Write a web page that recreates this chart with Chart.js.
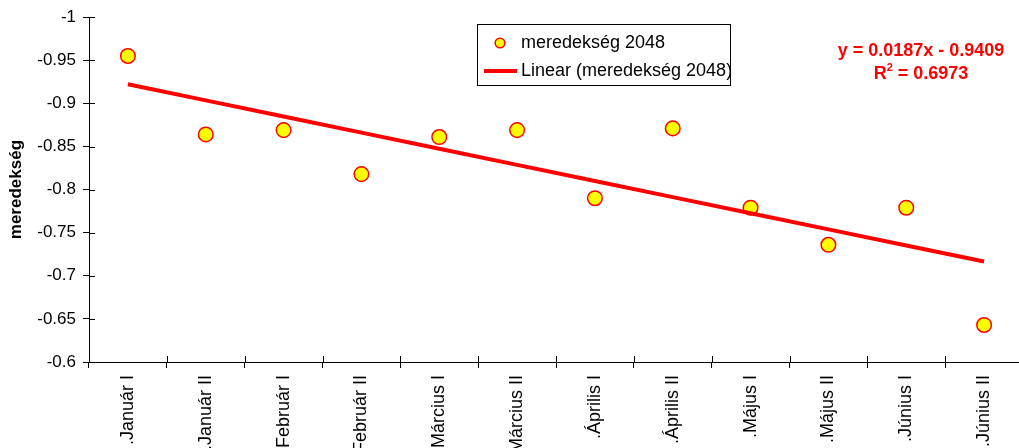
<!DOCTYPE html>
<html>
<head>
<meta charset="utf-8">
<script src="https://cdn.jsdelivr.net/npm/chart.js@4/dist/chart.umd.min.js"></script>
<style>
  html, body { margin: 0; padding: 0; background: #fff; overflow: hidden; }
  #wrap { position: relative; width: 1023px; height: 448px; }
</style>
</head>
<body>
<div id="wrap"><canvas id="c" width="1023" height="448"></canvas></div>
<script>
// Half-month periods on the category axis
const categories = ['.Január I', '.Január II', '.Február I', '.Február II', '.Március I', '.Március II',
                    '.Április I', '.Április II', '.Május I', '.Május II', '.Június I', '.Június II'];
// Slope values per period
const slopeValues = [-0.955, -0.864, -0.869, -0.818, -0.861, -0.869,
                     -0.790, -0.871, -0.779, -0.736, -0.779, -0.643];
// Value-axis tick labels
const yTicks = [-1, -0.95, -0.9, -0.85, -0.8, -0.75, -0.7, -0.65, -0.6];
// Linear trend coefficients
const trendSlope = 0.0187;
const trendIntercept = -0.9409;
const rSquared = 0.6973;

const seriesName = 'meredekség 2048';
const trendName = 'Linear (meredekség 2048)';
const axisTitle = 'meredekség';

// Trend line evaluated at x = 1..12 from the fitted equation
const trendValues = categories.map((_, i) => trendSlope * (i + 1) + trendIntercept);

const FONT = '"Liberation Sans", Arial, Helvetica, sans-serif';
Chart.defaults.font.family = FONT;
Chart.defaults.color = '#000';

// Tick marks that cross the axis lines (inner half; Chart.js draws the outer half)
const innerTicks = {
  id: 'innerTicks',
  afterDraw(chart) {
    const ctx = chart.ctx;
    const a = chart.chartArea;
    const ys = chart.scales.y;
    ctx.save();
    ctx.strokeStyle = '#000';
    ctx.lineWidth = 1;
    ctx.beginPath();
    const step = (a.right - a.left) / categories.length;
    for (let i = 0; i <= categories.length; i++) {
      const x = Math.round(a.left + i * step) + 0.5;
      ctx.moveTo(x, a.bottom);
      ctx.lineTo(x, a.bottom - 6);
    }
    yTicks.forEach(v => {
      const y = Math.round(ys.getPixelForValue(v)) + 0.5;
      ctx.moveTo(a.left, y);
      ctx.lineTo(a.left + 6, y);
    });
    ctx.stroke();
    ctx.restore();
  }
};

// Boxed legend and trend equation
const annotations = {
  id: 'annotations',
  afterDraw(chart) {
    const ctx = chart.ctx;
    ctx.save();
    // legend box
    ctx.fillStyle = '#fff';
    ctx.fillRect(477, 24, 253, 61);
    ctx.strokeStyle = '#000';
    ctx.lineWidth = 1;
    ctx.strokeRect(477.5, 24.5, 253, 61);

    const pts = chart.data.datasets[1];
    const trd = chart.data.datasets[0];
    // marker entry
    ctx.beginPath();
    ctx.arc(500, 43, 4.8, 0, Math.PI * 2);
    ctx.fillStyle = pts.backgroundColor;
    ctx.fill();
    ctx.lineWidth = 1.5;
    ctx.strokeStyle = pts.borderColor;
    ctx.stroke();
    // line entry
    ctx.beginPath();
    ctx.moveTo(484, 71);
    ctx.lineTo(517, 71);
    ctx.lineWidth = 4;
    ctx.strokeStyle = trd.borderColor;
    ctx.stroke();

    ctx.fillStyle = '#000';
    ctx.font = '18px ' + FONT;
    ctx.textAlign = 'left';
    ctx.textBaseline = 'middle';
    ctx.fillText(pts.label, 521, 43);
    ctx.fillText(trd.label, 521, 71);

    // equation
    ctx.fillStyle = '#ff0000';
    ctx.font = 'bold 18px ' + FONT;
    ctx.textAlign = 'center';
    const eq = 'y = ' + trendSlope.toFixed(4) + 'x - ' + Math.abs(trendIntercept).toFixed(4);
    ctx.fillText(eq, 921, 51);

    const rest = ' = ' + rSquared.toFixed(4);
    const wR = ctx.measureText('R').width;
    const wRest = ctx.measureText(rest).width;
    ctx.font = 'bold 11px ' + FONT;
    const w2 = ctx.measureText('2').width;
    const total = wR + w2 + wRest;
    let x = 921 - total / 2;
    ctx.textAlign = 'left';
    ctx.font = 'bold 18px ' + FONT;
    ctx.fillText('R', x, 74);
    x += wR;
    ctx.font = 'bold 11px ' + FONT;
    ctx.fillText('2', x, 68);
    x += w2;
    ctx.font = 'bold 18px ' + FONT;
    ctx.fillText(rest, x, 74);
    ctx.restore();
  }
};

new Chart(document.getElementById('c'), {
  type: 'line',
  data: {
    labels: categories,
    datasets: [
      {
        label: trendName,
        data: trendValues,
        borderColor: '#ff0000',
        borderWidth: 4,
        pointRadius: 0,
        fill: false,
        tension: 0,
        order: 0
      },
      {
        label: seriesName,
        data: slopeValues,
        showLine: false,
        pointRadius: 7.3,
        pointBorderWidth: 1.5,
        backgroundColor: '#ffff00',
        borderColor: '#ff0000',
        order: 1
      }
    ]
  },
  options: {
    responsive: false,
    animation: false,
    layout: { autoPadding: false, padding: { top: 16, right: 0, left: 0, bottom: 0 } },
    plugins: { legend: { display: false }, tooltip: { enabled: false } },
    scales: {
      x: {
        type: 'category',
        offset: true,
        grid: { offset: true, drawOnChartArea: false, color: '#000', tickLength: 6, lineWidth: 1 },
        border: { color: '#000', width: 1 },
        ticks: {
          autoSkip: false, minRotation: 90, maxRotation: 90, padding: 7,
          color: '#000', font: { size: 18 }
        },
        afterFit: s => { s.height = 86; s.paddingLeft = 0; s.paddingRight = 0; }
      },
      y: {
        reverse: true,
        min: -1,
        max: -0.6,
        afterBuildTicks: s => { s.ticks = yTicks.map(v => ({ value: v })); },
        grid: { drawOnChartArea: false, color: '#000', tickLength: 6, lineWidth: 1 },
        border: { color: '#000', width: 1 },
        ticks: { padding: 7, color: '#000', font: { size: 17 }, callback: v => String(v) },
        title: {
          display: true, text: axisTitle, color: '#000',
          font: { size: 17, weight: 'bold' }, padding: { top: 6, bottom: 0 }
        },
        afterFit: s => { s.width = 89; }
      }
    }
  },
  plugins: [innerTicks, annotations]
});
</script>
</body>
</html>
